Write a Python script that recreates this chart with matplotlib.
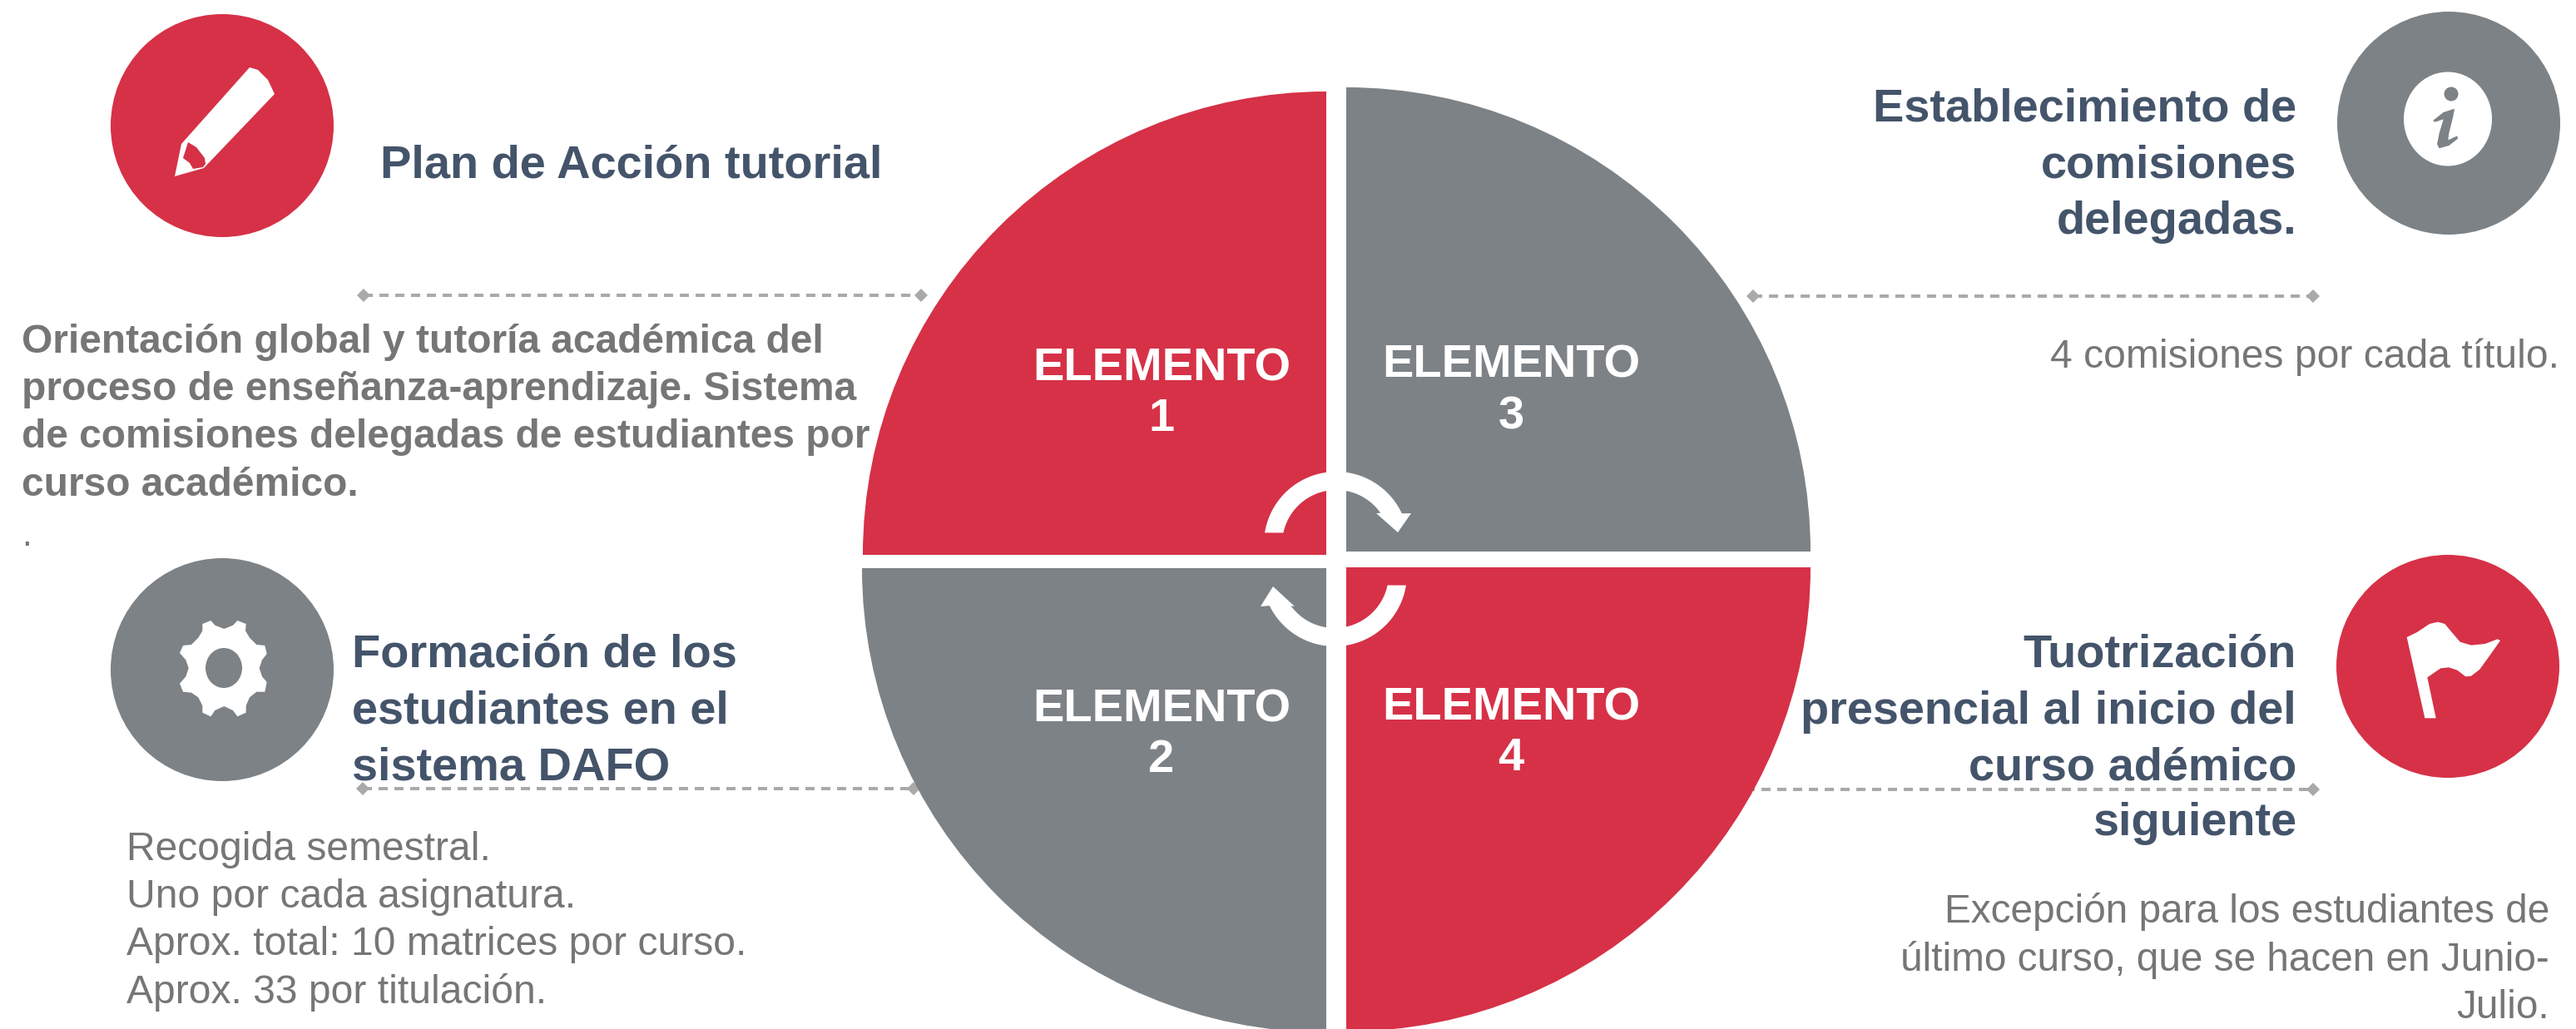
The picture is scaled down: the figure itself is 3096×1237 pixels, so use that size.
import matplotlib
matplotlib.use("Agg")
import matplotlib.pyplot as plt
from matplotlib.patches import Circle, Wedge, Polygon, Ellipse
import numpy as np

RED = '#d63147'
GREY = '#7d8286'
NAVY = '#44546a'
TXT = '#767676'
LINE = '#a9a9a9'

quadrant_labels = ['ELEMENTO\n1', 'ELEMENTO\n2', 'ELEMENTO\n3', 'ELEMENTO\n4']
headings = ['Plan de Acción tutorial',
            'Formación de los\nestudiantes en el\nsistema DAFO',
            'Establecimiento de\ncomisiones\ndelegadas.',
            'Tuotrización\npresencial al inicio del\ncurso adémico\nsiguiente']
body_1 = ['Orientación global y tutoría académica del',
          'proceso de enseñanza-aprendizaje. Sistema',
          'de comisiones delegadas de estudiantes por',
          'curso académico.']
body_2 = ['Recogida semestral.', 'Uno por cada asignatura.',
          'Aprox. total: 10 matrices por curso.', 'Aprox. 33 por titulación.']
body_3 = '4 comisiones por cada título.'
body_4 = ['Excepción para los estudiantes de',
          'último curso, que se hacen en Junio-', 'Julio.']

plt.rcParams['font.family'] = ['Liberation Sans', 'DejaVu Sans']

W, H = 3096, 1237
fig = plt.figure(figsize=(W / 100, H / 100), dpi=100)
ax = fig.add_axes([0, 0, 1, 1])
ax.set_xlim(0, W)
ax.set_ylim(H, 0)
ax.axis('off')


def pt(px):
    # size in image pixels to points
    return px * 72 / 100


# dashed leaders go under the pie, the lower ones end behind it
for x0, x1, y in [(437, 1107, 355), (2107, 2780, 356), (436, 1098, 948), (2098, 2780, 949)]:
    ax.plot([x0, x1], [y, y], color=LINE, lw=pt(4), dashes=(2.75, 2.0), zorder=0.5)
    ax.plot([x0, x1], [y, y], ls='none', marker='D', color=LINE, ms=pt(11.5), mew=0, zorder=0.5)

# big pie, y axis is flipped so the wedge angles are mirrored
ax.add_patch(Wedge((1594, 667), 557, 180, 270, fc=RED, ec='none'))
ax.add_patch(Wedge((1618, 663), 558, 270, 360, fc=GREY, ec='none'))
ax.add_patch(Wedge((1594, 683), 558, 90, 180, fc=GREY, ec='none'))
ax.add_patch(Wedge((1618, 682), 558, 0, 90, fc=RED, ec='none'))


def ring_arrow(cx, cy, outer_a, inner_a, tip):
    # the tail is cut flat, so both edges get their own angles
    a = np.radians(np.linspace(*outer_a, 50))
    b = np.radians(np.linspace(*inner_a, 50))
    outer = np.c_[cx + 87 * np.cos(a), cy + 87 * np.sin(a)]
    inner = np.c_[cx + 65 * np.cos(b), cy + 65 * np.sin(b)][::-1]
    return Polygon(np.vstack([outer, tip, inner]), fc='white', ec='none', zorder=3)


# round arrows in the middle
ax.add_patch(ring_arrow(1606, 654, (189, 335), (192, 325),
                        [(1696, 617), (1680, 640), (1654, 617)]))
ax.add_patch(ring_arrow(1604, 690, (9, 154), (12, 144),
                        [(1515, 729), (1530, 705), (1556, 729)]))

# baselines of the word and the number in each quadrant
label_pos = [(1396, 458, 518), (1396, 868, 928), (1816, 454, 515), (1816, 866, 926)]
for (x, y0, y1), txt in zip(label_pos, quadrant_labels):
    word, num = txt.split('\n')
    ax.text(x, y0, word, color='white', fontsize=pt(56), fontweight='bold', ha='center', va='baseline', zorder=4)
    ax.text(x, y1, num, color='white', fontsize=pt(56), fontweight='bold', ha='center', va='baseline', zorder=4)

# icon discs
ax.add_patch(Circle((267, 151), 134, fc=RED, ec='none'))
ax.add_patch(Circle((267, 805), 134, fc=GREY, ec='none'))
ax.add_patch(Circle((2943, 148), 134, fc=GREY, ec='none'))
ax.add_patch(Circle((2942, 801), 134, fc=RED, ec='none'))

# pencil
ax.add_patch(Polygon([(210, 212), (218, 173), (300, 81), (310, 84), (322, 96), (330, 113),
                      (245, 202)], fc='white', ec='none'))
ax.add_patch(Polygon([(220, 190), (226, 171), (236, 177), (246, 190), (247, 197), (244, 201),
                      (232, 203), (228, 196)], fc=RED, ec='none'))

gear = [(430, 300), (460, 288), (475, 305), (508, 318), (540, 305), (556, 288), (587, 300),
        (585, 325), (600, 350), (625, 375), (655, 378), (662, 408), (645, 430), (635, 460),
        (645, 490), (662, 510), (655, 545), (625, 545), (600, 565), (587, 595), (587, 620),
        (556, 634), (540, 612), (508, 597), (475, 612), (460, 634), (430, 620), (430, 595),
        (415, 565), (390, 548), (360, 545), (348, 515), (370, 490), (380, 460), (370, 430),
        (348, 405), (360, 378), (390, 375), (415, 350), (430, 325)]
ax.add_patch(Polygon([(100 + x / 3, 650 + y / 3) for x, y in gear], fc='white', ec='none'))
ax.add_patch(Ellipse((269, 803), 44, 48, fc=GREY, ec='none'))

# info
info = [(432, 435), (470, 405), (510, 392), (505, 420), (490, 480), (487, 505), (520, 490),
        (522, 500), (490, 525), (455, 535), (447, 520), (455, 480), (470, 430), (440, 440)]
ax.add_patch(Ellipse((2942, 143), 106, 113, fc='white', ec='none'))
ax.add_patch(Circle((2946, 113), 8.5, fc=GREY, ec='none'))
ax.add_patch(Polygon([(2780 + x / 3, y / 3) for x, y in info], fc=GREY, ec='none'))

# flag
flag = [(338, 318), (375, 300), (420, 270), (450, 263), (475, 270), (500, 300), (530, 335),
        (570, 347), (620, 342), (665, 325), (675, 330), (640, 380), (600, 435), (570, 458),
        (550, 460), (520, 437), (490, 427), (460, 430), (412, 463), (443, 610), (403, 610)]
ax.add_patch(Polygon([(2780 + x / 3, 660 + y / 3) for x, y in flag], fc='white', ec='none'))

# headings
ax.text(457, 200, headings[0], color=NAVY, fontsize=pt(56), fontweight='bold', va='center')
for i, line in enumerate(headings[1].split('\n')):
    ax.text(423, 788 + i * 67.5, line, color=NAVY, fontsize=pt(56), fontweight='bold', va='center')
for i, line in enumerate(headings[2].split('\n')):
    ax.text(2760, 132 + i * 67.5, line, color=NAVY, fontsize=pt(56), fontweight='bold', va='center', ha='right')
for i, line in enumerate(headings[3].split('\n')):
    ax.text(2760, 788 + i * 67.5, line, color=NAVY, fontsize=pt(56), fontweight='bold', va='center', ha='right')

# body text
for i, line in enumerate(body_1):
    ax.text(26, 411 + i * 57.5, line, color=TXT, fontsize=pt(47.9), fontweight='bold', va='center')
ax.text(26, 645, '.', color=TXT, fontsize=pt(42), va='center')
for i, line in enumerate(body_2):
    ax.text(152, 1021 + i * 57.5, line, color=TXT, fontsize=pt(48), va='center')
ax.text(3076, 429, body_3, color=TXT, fontsize=pt(48), va='center', ha='right')
for i, line in enumerate(body_4):
    ax.text(3064, 1096 + i * 58, line, color=TXT, fontsize=pt(47.8), va='center', ha='right')

fig.savefig('out.png', dpi=100)
